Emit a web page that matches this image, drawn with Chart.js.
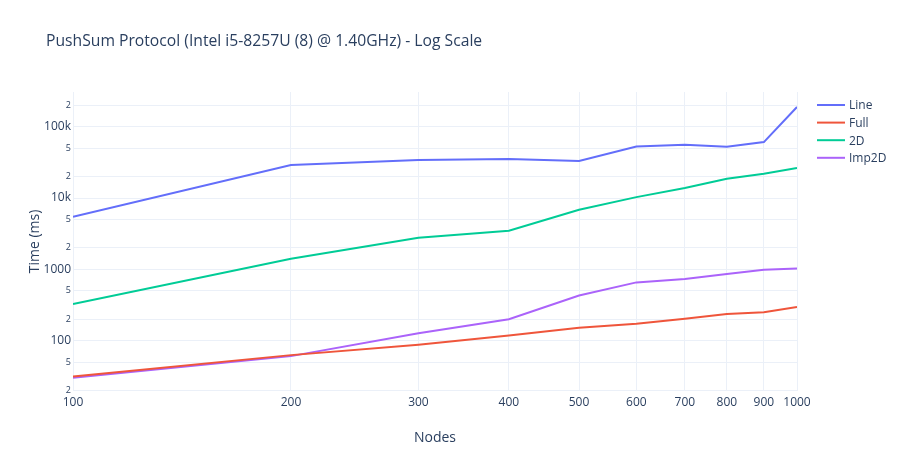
<!DOCTYPE html>
<html>
<head>
<meta charset="utf-8">
<script src="https://cdn.jsdelivr.net/npm/chart.js@4.4.1/dist/chart.umd.min.js"></script>
<style>
  html, body { margin: 0; padding: 0; background: #fff; }
  #wrap { width: 900px; height: 467px; }
</style>
</head>
<body>
<div id="wrap"><canvas id="pushsum_chart" width="900" height="467"></canvas></div>
<script>
var chartTitle = 'PushSum Protocol (Intel i5-8257U (8) @ 1.40GHz) - Log Scale';

var nodes = [100, 200, 300, 400, 500, 600, 700, 800, 900, 1000];
var lineTimes  = [5450, 29000, 34000, 35200, 33000, 52800, 55700, 52300, 60800, 189000];
var fullTimes  = [31.6, 63, 88, 119, 152, 173, 203, 237, 252, 297];
var twoDTimes  = [327, 1410, 2780, 3480, 6850, 10300, 13800, 18600, 21900, 26300];
var imp2dTimes = [30.3, 61, 128, 201, 432, 658, 733, 861, 990, 1030];

var seriesNames  = ['Line', 'Full', '2D', 'Imp2D'];
var seriesColors = ['#636efa', '#EF553B', '#00cc96', '#ab63fa'];

var xTicks = [100, 200, 300, 400, 500, 600, 700, 800, 900, 1000];
var yTicks = [20, 50, 100, 200, 500, 1000, 2000, 5000, 10000, 20000, 50000, 100000, 200000];
var yTickLabels = ['2', '5', '100', '2', '5', '1000', '2', '5', '10k', '2', '5', '100k', '2'];
var yMajor = [false, false, true, false, false, true, false, false, true, false, false, true, false];

var FONT = '"Open Sans", "Noto Sans", sans-serif';
var TEXT = '#2a3f5f';
var GRID = '#ebf0f8';

// title + legend drawn by hand so they sit where plotly puts them
var decorPlugin = {
    id: 'decor',
    afterDraw: function(chart) {
        var ctx = chart.ctx;
        ctx.save();
        ctx.fillStyle = TEXT;
        ctx.font = '15.7px ' + FONT;
        ctx.textBaseline = 'middle';
        ctx.textAlign = 'left';
        ctx.fillText(chartTitle, 46, 42);

        ctx.font = '12px ' + FONT;
        chart.data.datasets.forEach(function(ds, i) {
            var y = 105 + i * 17.6;
            ctx.strokeStyle = ds.borderColor;
            ctx.lineWidth = 2;
            ctx.beginPath();
            ctx.moveTo(817, y);
            ctx.lineTo(845, y);
            ctx.stroke();
            ctx.fillStyle = TEXT;
            ctx.fillText(ds.label, 849, y + 1);
        });
        ctx.restore();
    }
};

var datasets = [lineTimes, fullTimes, twoDTimes, imp2dTimes].map(function(vals, i) {
    return {
        label: seriesNames[i],
        data: nodes.map(function(n, j) { return {x: n, y: vals[j]}; }),
        borderColor: seriesColors[i],
        backgroundColor: seriesColors[i],
        borderWidth: 2,
        pointRadius: 0,
        tension: 0,
        fill: false
    };
});

var pushsum_ctx = document.getElementById('pushsum_chart').getContext('2d');
var pushsumChart = new Chart(pushsum_ctx, {
    type: 'line',
    data: { datasets: datasets },
    options: {
        responsive: false,
        animation: false,
        layout: { padding: { left: 0, right: 103, top: 92, bottom: 0 } },
        plugins: {
            legend: { display: false },
            title: { display: false },
            tooltip: { enabled: false }
        },
        scales: {
            x: {
                type: 'logarithmic',
                min: 100,
                max: 1000,
                bounds: 'data',
                afterBuildTicks: function(scale) {
                    scale.ticks = xTicks.map(function(v) { return {value: v}; });
                },
                afterFit: function(scale) { scale.height = 76; },
                grid: { color: GRID, lineWidth: 1, drawTicks: false },
                border: { display: false },
                ticks: {
                    autoSkip: false,
                    maxRotation: 0,
                    padding: 4,
                    color: TEXT,
                    font: { family: FONT, size: 12 },
                    callback: function(v) { return String(v); }
                },
                title: {
                    display: true,
                    text: 'Nodes',
                    color: TEXT,
                    font: { family: FONT, size: 14 },
                    padding: { top: 0, bottom: 21 }
                }
            },
            y: {
                type: 'logarithmic',
                min: 19.8,
                max: 306000,
                bounds: 'data',
                afterBuildTicks: function(scale) {
                    scale.ticks = yTicks.map(function(v) { return {value: v}; });
                },
                afterFit: function(scale) { scale.width = 73; },
                grid: { color: GRID, lineWidth: 1, drawTicks: false },
                border: { display: false },
                ticks: {
                    autoSkip: false,
                    padding: 2,
                    color: TEXT,
                    font: function(c) {
                        return { family: FONT, size: yMajor[c.index] ? 12 : 9 };
                    },
                    callback: function(v, i) { return yTickLabels[i]; }
                },
                title: {
                    display: true,
                    text: 'Time (ms)',
                    color: TEXT,
                    font: { family: FONT, size: 14 },
                    padding: { top: 27, bottom: 0 }
                }
            }
        }
    },
    plugins: [decorPlugin]
});
</script>
</body>
</html>
